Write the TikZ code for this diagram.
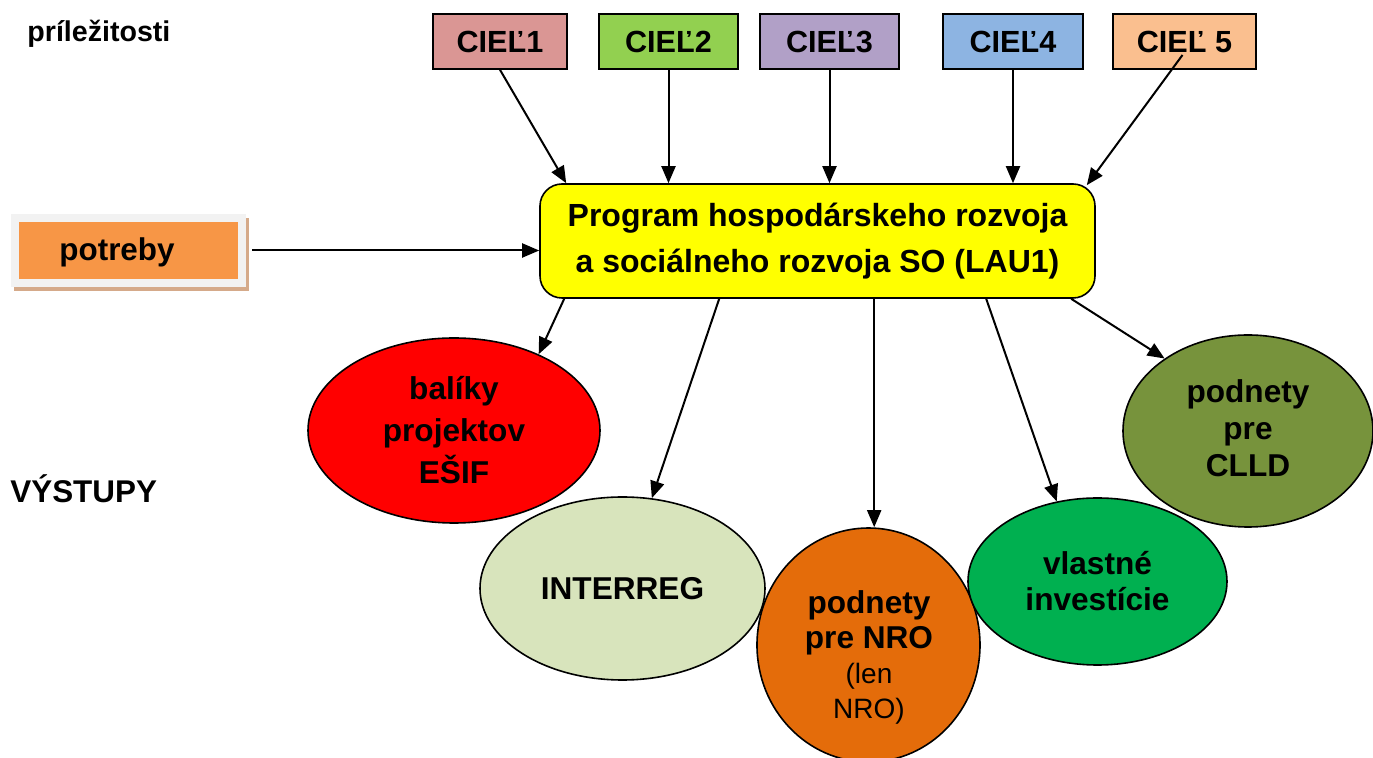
\documentclass[tikz,border=0pt]{standalone}
\usepackage{fontspec}
\setmainfont{Liberation Sans}
\usetikzlibrary{arrows.meta,shapes.geometric,calc}
\definecolor{cA}{HTML}{DA9694}
\definecolor{cB}{HTML}{92D050}
\definecolor{cC}{HTML}{B1A0C7}
\definecolor{cD}{HTML}{8DB4E2}
\definecolor{cE}{HTML}{FABF8F}
\definecolor{potor}{HTML}{F79646}
\definecolor{potfr}{HTML}{F2F2F2}
\definecolor{potsh}{HTML}{D5AA8A}
\definecolor{balred}{HTML}{FF0000}
\definecolor{intg}{HTML}{D8E4BC}
\definecolor{nroor}{HTML}{E46C0A}
\definecolor{vlg}{HTML}{00B050}
\definecolor{clldg}{HTML}{77933C}
\definecolor{progy}{HTML}{FFFF00}
\begin{document}
\begin{tikzpicture}[x=0.5pt,y=-0.5pt,
  arr/.style={line width=1pt,-{Triangle[length=8.5pt,width=7pt]}},
  cielbox/.style={draw=black,line width=0.8pt,minimum width=#1,minimum height=27.5pt,inner sep=0pt,
    font=\fontsize{15.3}{18}\selectfont\bfseries},
  outel/.style={ellipse,draw=black,line width=0.8pt,inner sep=0pt,align=center},
  btxt/.style={font=\fontsize{15.8}{#1}\selectfont\bfseries,align=center,inner sep=0pt},
  lbl/.style={font=\fontsize{#1}{#1}\selectfont\bfseries,inner sep=0pt,anchor=base west}
]
\useasboundingbox (0,0) rectangle (1373,758);

% side labels
\node[lbl=14.3] (prilez) at (27,42) {príležitosti};
\node[lbl=15.7] (vystupy) at (10,503) {VÝSTUPY};

% goals
\node[cielbox=67pt,fill=cA] (c1) at (500,41.5) {CIEĽ1};
\node[cielbox=69.5pt,fill=cB] (c2) at (668.5,41.5) {CIEĽ2};
\node[cielbox=69.5pt,fill=cC] (c3) at (829.5,41.5) {CIEĽ3};
\node[cielbox=70pt,fill=cD] (c4) at (1013,41.5) {CIEĽ4};
\node[cielbox=71.5pt,fill=cE] (c5) at (1184.5,41.5) {CIEĽ 5};

% central program box
\node[draw=black,line width=0.8pt,fill=progy,rounded corners=11pt,minimum width=277.5pt,minimum height=57pt,
  inner sep=0pt,align=center,font=\fontsize{16}{23}\selectfont\bfseries] (prog) at (817.5,241)
  {Program hospodárskeho rozvoja\\a sociálneho rozvoja SO (LAU1)};

% needs box
\node[fill=potsh,minimum width=117.5pt,minimum height=36.5pt,inner sep=0pt] (potsh) at (131.5,254.5) {};
\node[fill=potfr,minimum width=117.5pt,minimum height=36.5pt,inner sep=0pt] (potframe) at (128.5,250.5) {};
\node[fill=potor,minimum width=109.5pt,minimum height=28.5pt,inner sep=0pt] (potbox) at (128.5,250.5) {};
\node[font=\fontsize{15.7}{18}\selectfont\bfseries,inner sep=0pt] (pottext) at (117,252) {potreby};

% outputs
\node[outel,fill=balred,minimum width=146pt,minimum height=92.5pt] (bal) at (454,430.5) {};
\node[btxt=21pt] (baltext) at (bal) {balíky\\projektov\\EŠIF};
\node[outel,fill=intg,minimum width=142.5pt,minimum height=91.5pt] (intr) at (622.5,588.5) {};
\node[btxt=20pt] (intrtext) at (intr) {INTERREG};
\node[outel,fill=nroor,minimum width=111.5pt,minimum height=117pt] (nro) at (868.5,645) {};
\node[font=\fontsize{15.8}{17.5}\selectfont,align=center,inner sep=0pt] (nrotext) at (869,657)
  {\bfseries podnety\\\bfseries pre NRO\\\fontsize{14}{17.5}\selectfont(len\\\fontsize{14}{16.5}\selectfont NRO)};
\node[outel,fill=vlg,minimum width=129.5pt,minimum height=83.5pt] (vl) at (1097.5,581.5) {};
\node[btxt=18pt] (vltext) at (vl) {vlastné\\investície};
\node[outel,fill=clldg,minimum width=125pt,minimum height=96pt] (clld) at (1248,431) {};
\node[btxt=18.5pt] (clldtext) at (1248,428) {podnety\\pre\\CLLD};

% arrows into program
\draw[arr] (c1.south) -- ($(prog.north west)+(27,0)$);
\draw[arr] (c2.south) -- (c2.south |- prog.north);
\draw[arr] (c3.south) -- (c3.south |- prog.north);
\draw[arr] (c4.south) -- (c4.south |- prog.north);
\draw[arr] ($(c5.center)+(-2,13.5)$) -- ($(prog.north east)+(-9,2)$);
\draw[arr] ([xshift=3pt]potframe.east) -- (prog.west |- potframe.east);

% arrows out of program
\draw[arr] ($(prog.south west)+(25,0)$) -- (bal.42);
\draw[arr] ($(prog.south west)+(180,0)$) -- (intr.72);
\draw[arr] ($(prog.south west)+(335,0)$) coordinate (s3) -- (s3 |- nro.north);
\draw[arr] ($(prog.south west)+(447,0)$) -- (vl.117);
\draw[arr] ($(prog.south west)+(532,0)$) -- (clld.139);
\end{tikzpicture}
\end{document}
